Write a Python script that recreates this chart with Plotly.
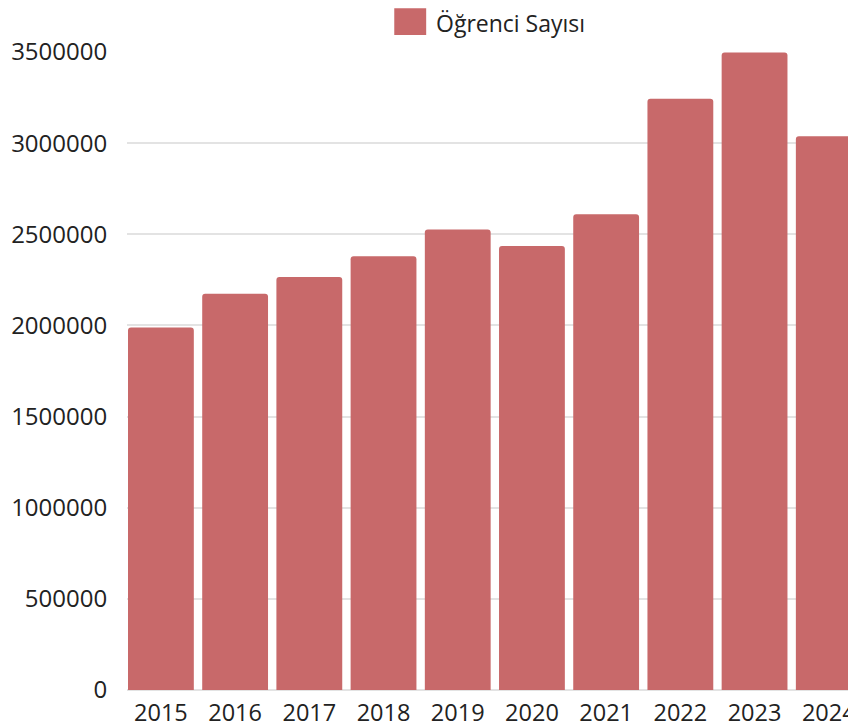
import plotly.graph_objects as go

years = ["2015", "2016", "2017", "2018", "2019", "2020", "2021", "2022", "2023", "2024"]
students = [1988000, 2174000, 2265000, 2379000, 2526000, 2436000, 2610000, 3244000, 3497000, 3038000]
series_name = "Öğrenci Sayısı"
y_ticks = [0, 500000, 1000000, 1500000, 2000000, 2500000, 3000000, 3500000]

bar_color = "#c8696a"
font_family = "Open Sans, DejaVu Sans, sans-serif"

# figure geometry (page body adds an 8px offset)
W, H = 848, 720
L, R, T, B = 119, 0, 44, 36
PW, PH = W - L - R, H - T - B


def px_x(fx):
    return (fx - L) / PW


def px_y(fy):
    return 1 + (T - fy) / PH


fig = go.Figure()
fig.add_trace(go.Bar(
    x=list(range(len(years))),
    y=students,
    name=series_name,
    marker=dict(color=bar_color, cornerradius=3, line=dict(width=0)),
    showlegend=False,
))

# legend (square + label) above plot
fig.add_shape(type="rect", xref="paper", yref="paper",
              x0=px_x(387), x1=px_x(419), y0=px_y(27), y1=px_y(0),
              fillcolor=bar_color, line=dict(width=0))
fig.add_annotation(text=series_name, xref="paper", yref="paper",
                   x=px_x(428), y=px_y(15),
                   xanchor="left", yanchor="middle", showarrow=False,
                   borderpad=0,
                   font=dict(family=font_family, size=23, color="#222222"))

fig.update_layout(
    width=W, height=H,
    margin=dict(l=L, r=R, t=T, b=B, pad=0),
    paper_bgcolor="white", plot_bgcolor="white",
    bargap=0.113,
    font=dict(family=font_family, color="#222222"),
    xaxis=dict(
        tickmode="array", tickvals=list(range(len(years))), ticktext=years,
        range=[-0.457, 9.34], showgrid=False, showline=False, zeroline=False,
        tickfont=dict(size=23.5, color="#222222"), ticks="outside", ticklen=2,
        tickcolor="rgba(0,0,0,0)", ticklabeloverflow="allow",
    ),
    yaxis=dict(
        range=[0, 3500000], tickmode="array", tickvals=y_ticks,
        ticktext=[str(v) for v in y_ticks],
        showgrid=True, gridcolor="#e3e3e3", gridwidth=1.5,
        zeroline=True, zerolinecolor="#e3e3e3", showline=False,
        tickfont=dict(size=24, color="#222222"), ticks="outside", ticklen=14,
        tickcolor="rgba(0,0,0,0)",
    ),
)

fig.write_html("out.html")
